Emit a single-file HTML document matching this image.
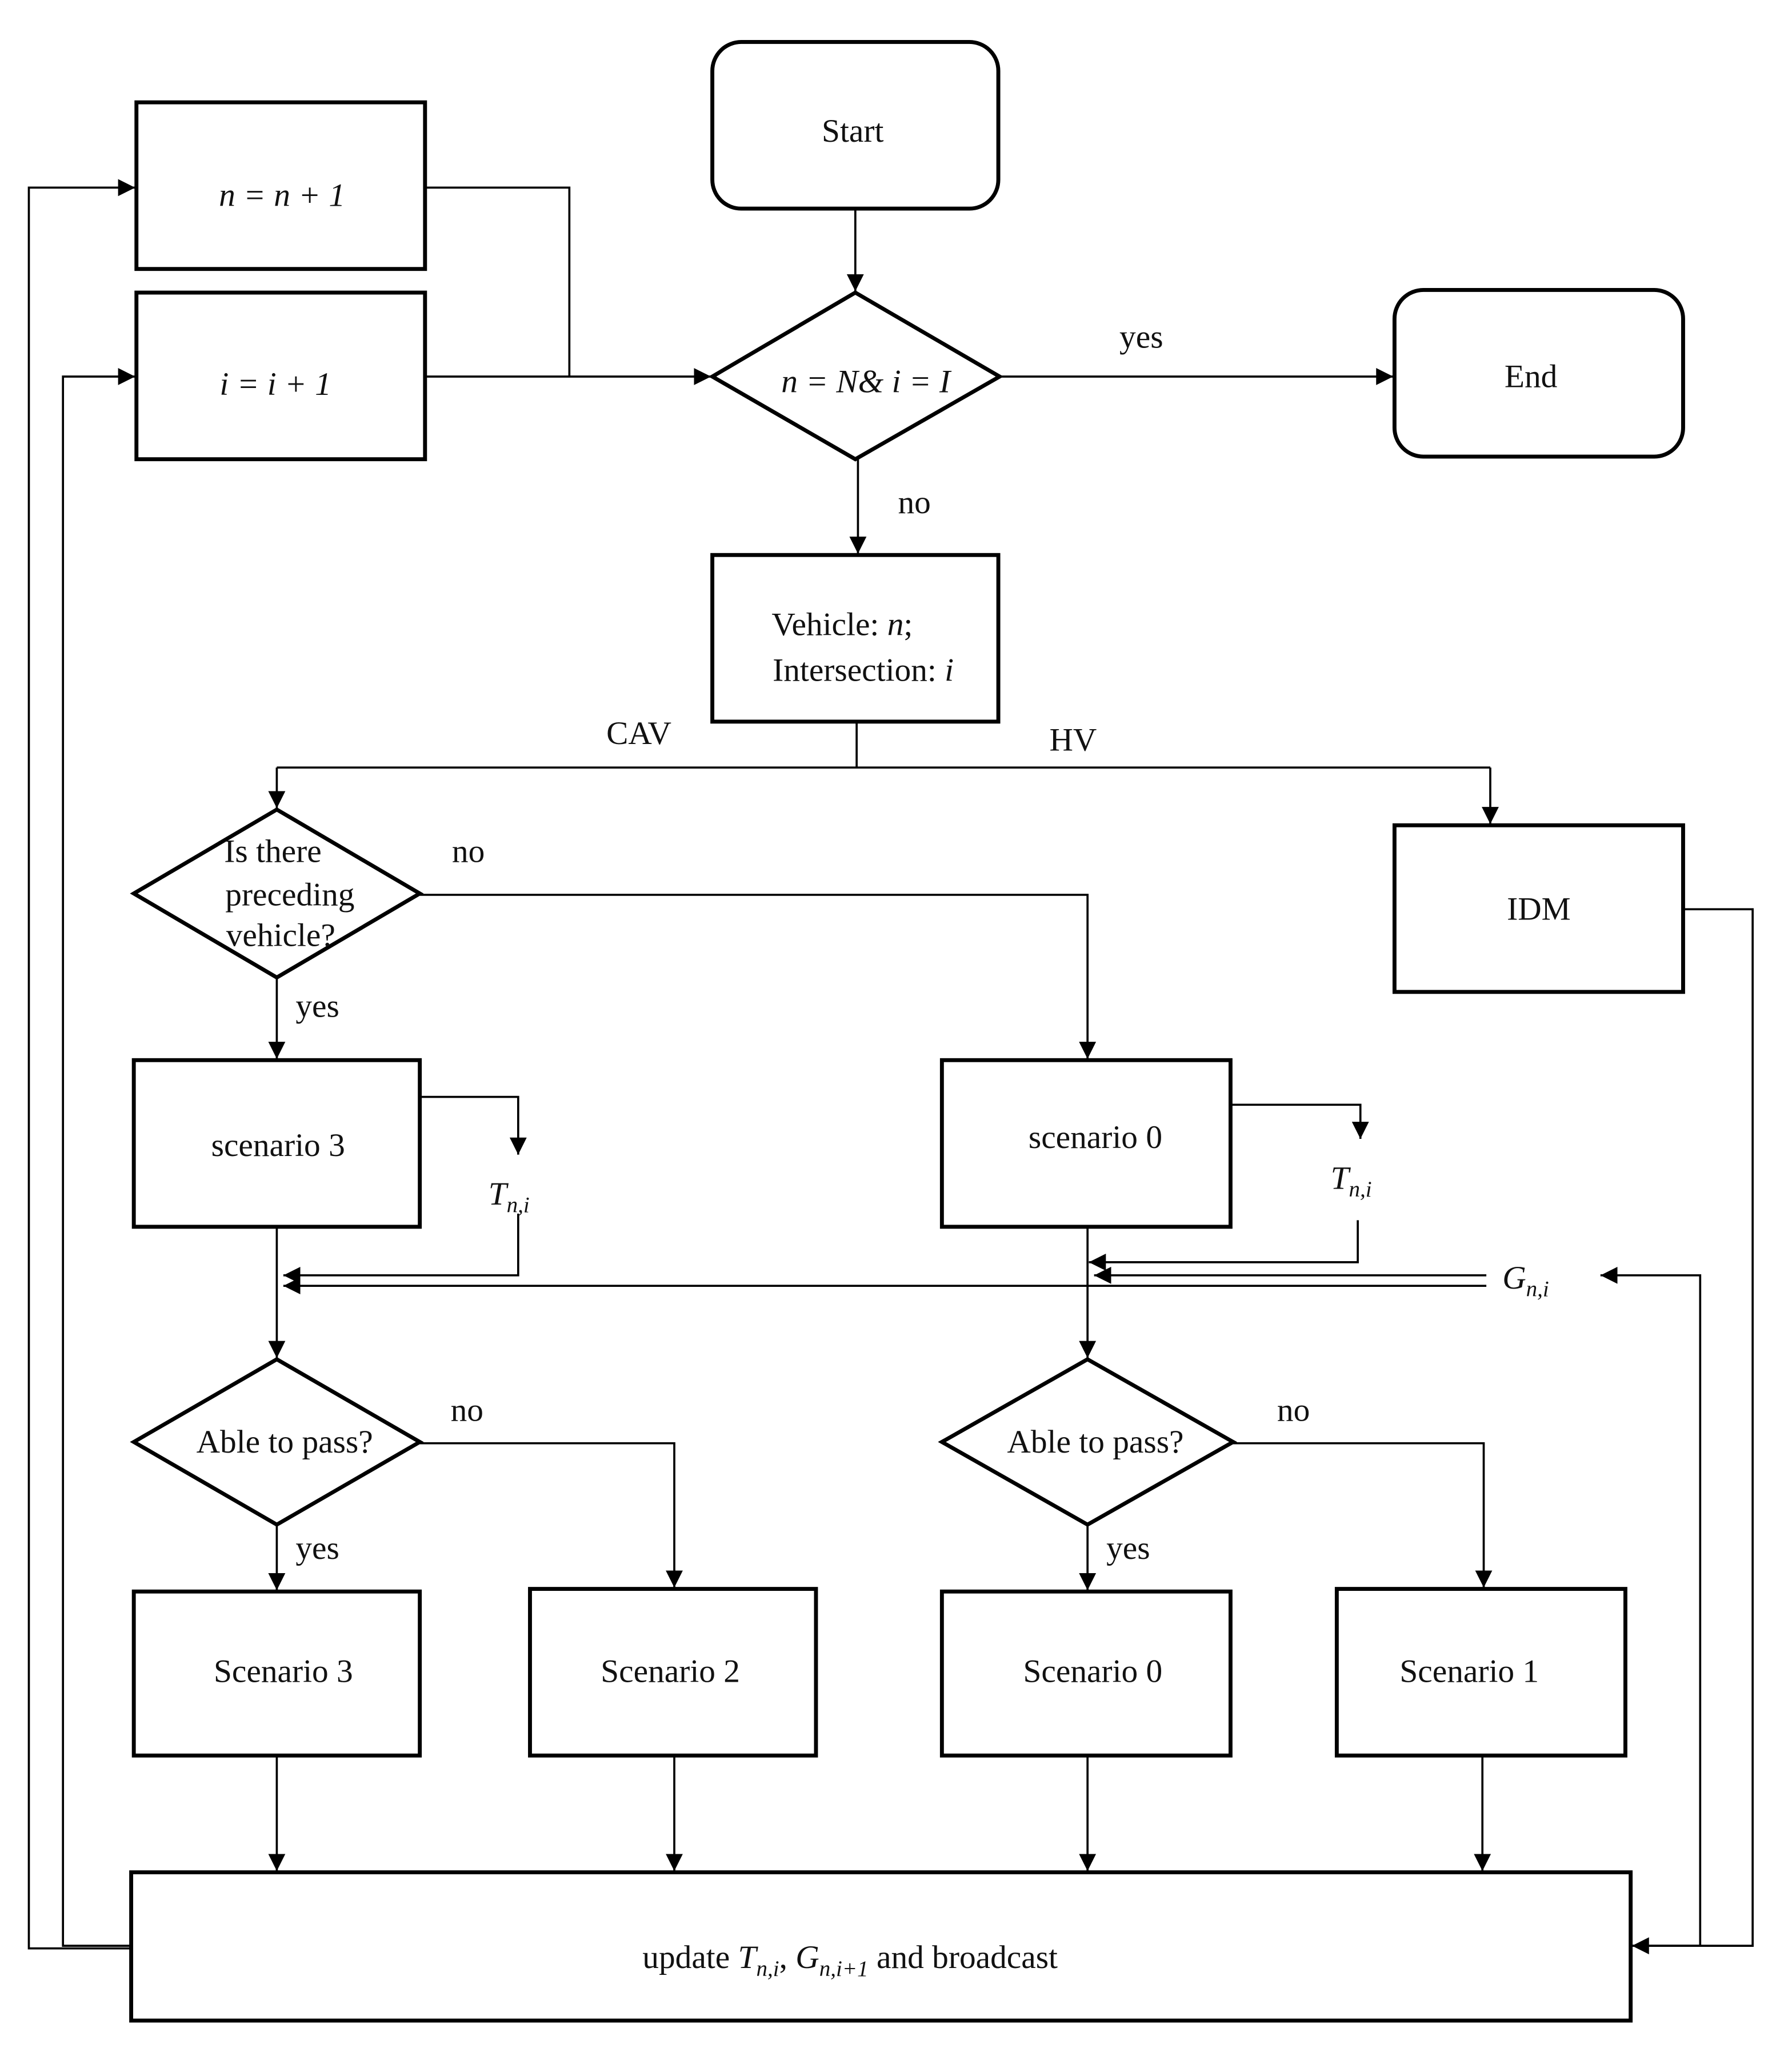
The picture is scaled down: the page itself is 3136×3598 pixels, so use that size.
<!DOCTYPE html>
<html><head><meta charset="utf-8"><style>
html,body{margin:0;padding:0;background:#fff;}
svg{display:block;}
text{font-family:"Liberation Serif",serif;font-size:25px;fill:#111;}
.it{font-style:italic;}
</style></head><body>
<svg width="3136" height="3598" viewBox="0 0 1366 1567" preserveAspectRatio="none" xmlns="http://www.w3.org/2000/svg">
<defs>
<marker id="ab" viewBox="0 0 10 10" refX="10" refY="5" markerWidth="13" markerHeight="13" markerUnits="userSpaceOnUse" orient="auto">
<path d="M0,0 L10,5 L0,10 z" fill="#000"/></marker>
</defs>
<g fill="none" stroke="#000" stroke-width="3">
<rect x="543" y="32" width="218" height="127" rx="22"/>
<rect x="104" y="78" width="220" height="127"/>
<rect x="104" y="223" width="220" height="127"/>
<polygon points="543,287 652,223 762,287 652,350"/>
<rect x="1063" y="221" width="220" height="127" rx="22"/>
<rect x="543" y="423" width="218" height="127"/>
<rect x="1063" y="629" width="220" height="127"/>
<polygon points="102,681 211,617 320,681 211,745"/>
<rect x="102" y="808" width="218" height="127"/>
<rect x="718" y="808" width="220" height="127"/>
<polygon points="102,1099 211,1036 320,1099 211,1162"/>
<polygon points="718,1099 829,1036 940,1099 829,1162"/>
<rect x="102" y="1213" width="218" height="125"/>
<rect x="404" y="1211" width="218" height="127"/>
<rect x="718" y="1213" width="220" height="125"/>
<rect x="1019" y="1211" width="220" height="127"/>
<rect x="100" y="1427" width="1143" height="113"/>
</g>
<g fill="none" stroke="#000" stroke-width="1.6">
<path d="M652,159 V222" marker-end="url(#ab)"/>
<path d="M324,143 H434 V287"/>
<path d="M324,287 H542" marker-end="url(#ab)"/>
<path d="M762,287 H1062" marker-end="url(#ab)"/>
<path d="M654,350 V422" marker-end="url(#ab)"/>
<path d="M653,550 V585 M211,585 H1136"/>
<path d="M211,585 V616" marker-end="url(#ab)"/>
<path d="M1136,585 V628" marker-end="url(#ab)"/>
<path d="M320,682 H829 V807" marker-end="url(#ab)"/>
<path d="M211,745 V807" marker-end="url(#ab)"/>
<path d="M320,836 H395 V880" marker-end="url(#ab)"/>
<path d="M938,842 H1037 V868" marker-end="url(#ab)"/>
<path d="M395,925 V972 H216" marker-end="url(#ab)"/>
<path d="M1035,930 V962 H830" marker-end="url(#ab)"/>
<path d="M1133,972 H834" marker-end="url(#ab)"/>
<path d="M1133,980 H216" marker-end="url(#ab)"/>
<path d="M211,935 V1035" marker-end="url(#ab)"/>
<path d="M829,935 V1035" marker-end="url(#ab)"/>
<path d="M320,1100 H514 V1210" marker-end="url(#ab)"/>
<path d="M940,1100 H1131 V1210" marker-end="url(#ab)"/>
<path d="M211,1162 V1212" marker-end="url(#ab)"/>
<path d="M829,1162 V1212" marker-end="url(#ab)"/>
<path d="M211,1338 V1426" marker-end="url(#ab)"/>
<path d="M514,1338 V1426" marker-end="url(#ab)"/>
<path d="M829,1338 V1426" marker-end="url(#ab)"/>
<path d="M1130,1338 V1426" marker-end="url(#ab)"/>
<path d="M1283,693 H1336 V1483 H1244" marker-end="url(#ab)"/>
<path d="M1243,1483 H1296 V972 H1220" marker-end="url(#ab)"/>
<path d="M100,1485 H22 V143 H103" marker-end="url(#ab)"/>
<path d="M100,1483 H48 V287 H103" marker-end="url(#ab)"/>
</g>
<g text-anchor="middle">
<text x="650" y="108">Start</text>
<text x="215" y="157" class="it">n = n + 1</text>
<text x="210" y="301" class="it">i = i + 1</text>
<text x="660" y="299" class="it">n  = N&amp; i = I</text>
<text x="870" y="265">yes</text>
<text x="1167" y="295">End</text>
<text x="697" y="391">no</text>
<text x="642" y="484">Vehicle: <tspan class="it">n</tspan>;</text>
<text x="658" y="519">Intersection: <tspan class="it">i</tspan></text>
<text x="487" y="567">CAV</text>
<text x="818" y="572">HV</text>
<text x="1173" y="701">IDM</text>
<text x="208" y="657">Is there</text>
<text x="221" y="690">preceding</text>
<text x="214" y="721">vehicle?</text>
<text x="357" y="657">no</text>
<text x="242" y="775">yes</text>
<text x="212" y="881">scenario 3</text>
<text x="835" y="875">scenario 0</text>
<text x="388" y="918" class="it">T<tspan font-size="17" dy="6">n,i</tspan></text>
<text x="1030" y="906" class="it">T<tspan font-size="17" dy="6">n,i</tspan></text>
<text x="1163" y="982" class="it">G<tspan font-size="17" dy="6">n,i</tspan></text>
<text x="217" y="1107">Able to pass?</text>
<text x="835" y="1107">Able to pass?</text>
<text x="356" y="1083">no</text>
<text x="986" y="1083">no</text>
<text x="242" y="1188">yes</text>
<text x="860" y="1188">yes</text>
<text x="216" y="1282">Scenario 3</text>
<text x="511" y="1282">Scenario 2</text>
<text x="833" y="1282">Scenario 0</text>
<text x="1120" y="1282">Scenario 1</text>
<text x="648" y="1500">update <tspan class="it">T</tspan><tspan class="it" font-size="17" dy="6">n,i</tspan><tspan dy="-6">, </tspan><tspan class="it">G</tspan><tspan class="it" font-size="17" dy="6">n,i+1</tspan><tspan dy="-6">  and broadcast</tspan></text>
</g>
</svg>
</body></html>
